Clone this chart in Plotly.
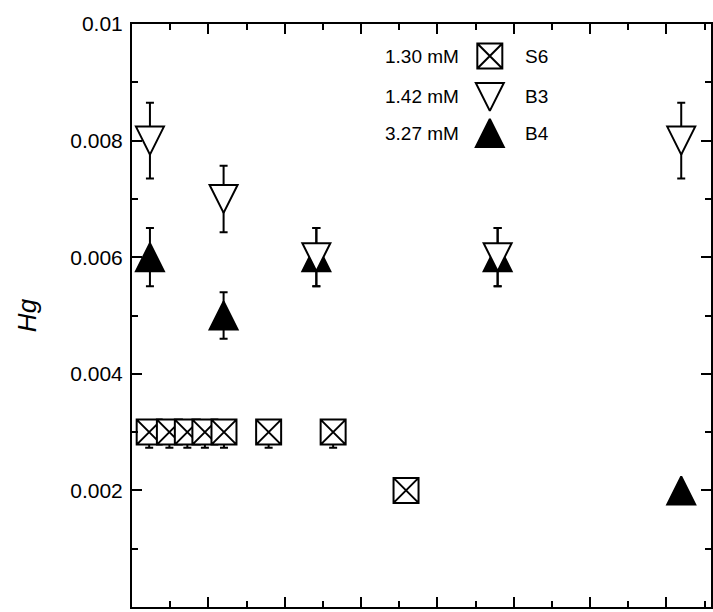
import plotly.graph_objects as go

# ---- data (x in axis units, minor tick = 1 unit) ----
s6_x = [0.45, 0.98, 1.45, 1.91, 2.41, 3.58, 5.27, 7.18]
s6_y = [0.003, 0.003, 0.003, 0.003, 0.003, 0.003, 0.003, 0.002]
s6_err_minus = [0.00027, 0.00027, 0.00027, 0.00027, 0.00027, 0.00027, 0.00027, 0.0]

b3_x = [0.47, 2.40, 4.83, 9.58, 14.39]
b3_y = [0.008, 0.007, 0.006, 0.006, 0.008]
b3_err = [0.00065, 0.00057, 0.0005, 0.0005, 0.00065]

b4_x = [0.47, 2.40, 4.83, 9.58, 14.39]
b4_y = [0.006, 0.005, 0.006, 0.006, 0.002]
b4_err = [0.0005, 0.0004, 0.0005, 0.0005, 0.0]

y_tickvals = [0, 0.002, 0.004, 0.006, 0.008, 0.01]
y_ticktext = ["0", "0.002", "0.004", "0.006", "0.008", "0.01"]

legend_names = ["S6", "B3", "B4"]
legend_conc = ["1.30 mM", "1.42 mM", "3.27 mM"]

FONT = "Liberation Sans, Arial, sans-serif"
TRI = 28  # triangle marker size (width = height = TRI)

def eb(arr, minus=None):
    d = dict(type="data", array=arr, visible=True, color="black",
             thickness=2, width=4)
    if minus is not None:
        d["symmetric"] = False
        d["arrayminus"] = minus
    return d

# centred triangles built from arrow symbols (apex shifted by half size)
tri_down = dict(symbol="arrow-down", angle=0, standoff=TRI / 2, size=TRI)
tri_up = dict(symbol="arrow-down", angle=180, standoff=TRI / 2, size=TRI)

fig = go.Figure()

# B4 first (drawn beneath B3)
fig.add_trace(go.Scatter(
    x=b4_x, y=b4_y, mode="markers", error_y=eb(b4_err),
    marker=dict(**tri_up, color="black", line=dict(color="black", width=2)),
    cliponaxis=False))
fig.add_trace(go.Scatter(
    x=b3_x, y=b3_y, mode="markers", error_y=eb(b3_err),
    marker=dict(**tri_down, color="white", line=dict(color="black", width=2)),
    cliponaxis=False))
fig.add_trace(go.Scatter(
    x=s6_x, y=s6_y, mode="markers",
    error_y=eb([0] * len(s6_x), s6_err_minus),
    marker=dict(symbol="square-x", size=25, color="white",
                line=dict(color="black", width=2)),
    cliponaxis=False))

# ---- custom legend on an overlay axis (0..1 of the plot area) ----
leg_markers = [
    dict(symbol="square-x", size=25, color="white"),
    dict(**tri_down, color="white"),
    dict(**tri_up, color="black"),
]
leg_x = 0.618
leg_y = [0.945, 0.875, 0.813]
for mk, yy in zip(leg_markers, leg_y):
    fig.add_trace(go.Scatter(
        x=[leg_x], y=[yy], mode="markers", xaxis="x2", yaxis="y2",
        marker=dict(**mk, line=dict(color="black", width=2)),
        cliponaxis=False, hoverinfo="skip"))

annotations = []
for name, conc, yy in zip(legend_names, legend_conc, leg_y):
    annotations.append(dict(x=0.568, y=yy, xref="paper", yref="paper",
                            text=conc, showarrow=False, xanchor="right",
                            yanchor="middle",
                            font=dict(family=FONT, size=19, color="black")))
    annotations.append(dict(x=0.675, y=yy, xref="paper", yref="paper",
                            text=name, showarrow=False, xanchor="left",
                            yanchor="middle",
                            font=dict(family=FONT, size=19, color="black")))

fig.update_layout(
    width=713, height=612,
    margin=dict(l=132, r=0, t=24, b=5),
    paper_bgcolor="white", plot_bgcolor="white",
    showlegend=False,
    font=dict(family=FONT, color="black"),
    annotations=annotations,
    xaxis=dict(
        range=[0, 15.17], showline=True, linewidth=2, linecolor="black",
        mirror="allticks", ticks="inside", ticklen=10, tickwidth=2,
        tickcolor="black", tick0=0, dtick=2, showticklabels=False,
        showgrid=False, zeroline=False,
        minor=dict(ticks="inside", ticklen=6, tickwidth=2,
                   tickcolor="black", dtick=1, tick0=0, showgrid=False),
    ),
    yaxis=dict(
        range=[0, 0.01], showline=True, linewidth=2, linecolor="black",
        mirror="allticks", ticks="inside", ticklen=10, tickwidth=2,
        tickcolor="black", tickmode="array", tickvals=y_tickvals,
        ticktext=y_ticktext, tickfont=dict(family=FONT, size=21),
        ticklabelstandoff=3,
        showgrid=False, zeroline=False,
        minor=dict(ticks="inside", ticklen=6, tickwidth=2,
                   tickcolor="black", dtick=0.001, tick0=0, showgrid=False),
        title=dict(text="<i>Hg</i>", font=dict(family=FONT, size=26),
                   standoff=26),
    ),
    xaxis2=dict(overlaying="x", range=[0, 1], visible=False),
    yaxis2=dict(overlaying="y", range=[0, 1], visible=False),
)

fig.write_html("out.html")
